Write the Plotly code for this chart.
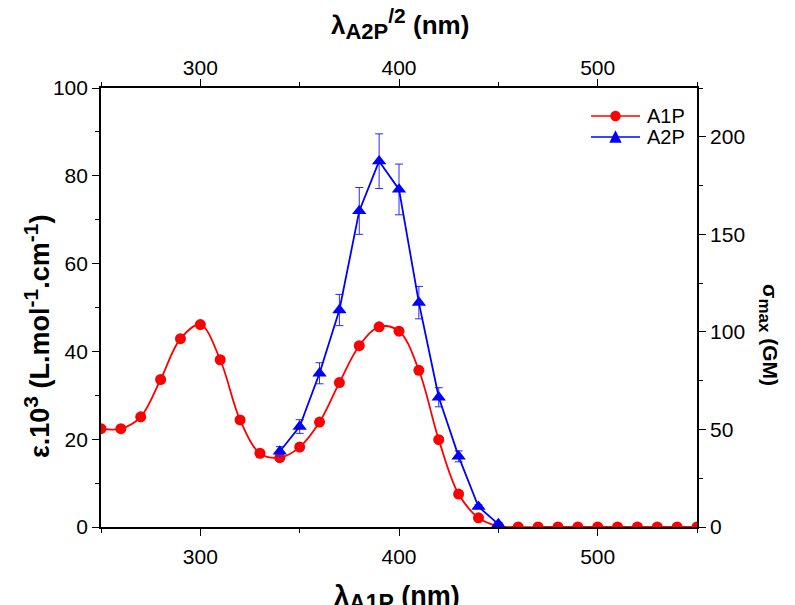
import plotly.graph_objects as go

# ---- data ----
wl_a1p = [250, 260, 270, 280, 290, 300, 310, 320, 330, 340, 350, 360, 370, 380, 390,
          400, 410, 420, 430, 440, 450, 460, 470, 480, 490, 500, 510, 520, 530, 540, 550]
eps_a1p = [22.4, 22.4, 25.1, 33.6, 42.9, 46.1, 38.1, 24.4, 16.8, 15.8, 18.2, 23.9, 32.9, 41.3, 45.6,
           44.6, 35.7, 19.9, 7.5, 2.1, 0.2, 0, 0, 0, 0, 0, 0, 0, 0, 0, 0]

wl_a2p_half = [340, 350, 360, 370, 380, 390, 400, 410, 420, 430, 440, 450]
sigma_a2p = [38.7, 51.5, 78.8, 111.2, 162.0, 187.5, 173.0, 115.0, 66.5, 36.2, 10.4, 1.5]
sigma_err = [2.5, 3.5, 5.4, 8.0, 12.0, 14.0, 13.0, 8.3, 4.9, 2.8, 1.0, 0.5]

x_ticks = [300, 400, 500]
series_names = ["A1P", "A2P"]
series_colors = ["#ff0000", "#0000ff"]

FONT = "Liberation Sans, Arial, sans-serif"

# ---- layout geometry (pixels in the page) ----
PAGE_OFF = 8            # html body margin
L, R, T, B = 101, 697, 88, 527
W, H = 795, 605
PW, PH = R - L, B - T


def px(xp):
    return (xp - L) / PW


def py(yp):
    return (B - yp) / PH


fig = go.Figure()
fig.add_trace(go.Scatter(
    x=wl_a1p, y=eps_a1p, name=series_names[0], mode="lines+markers",
    line=dict(color=series_colors[0], width=1.8, shape="spline", smoothing=1.0),
    marker=dict(symbol="circle", size=11, color=series_colors[0]),
    xaxis="x", yaxis="y", showlegend=False,
))
fig.add_trace(go.Scatter(
    x=wl_a2p_half, y=sigma_a2p, name=series_names[1], mode="lines+markers",
    line=dict(color=series_colors[1], width=1.8),
    marker=dict(symbol="triangle-up", size=12.5, color=series_colors[1]),
    error_y=dict(type="data", array=sigma_err, visible=True, color="#2a2aff",
                 thickness=1, width=4),
    xaxis="x2", yaxis="y2", showlegend=False,
))

minor_common = dict(ticks="outside", ticklen=4, tickwidth=1.4, tickcolor="black")
axis_common = dict(
    showline=True, linecolor="black", linewidth=1.7, ticks="outside",
    ticklen=7, tickwidth=1.4, tickcolor="black", showgrid=False, zeroline=False,
    tickfont=dict(family=FONT, size=21, color="black"),
)

# manual legend (line + marker + label), positioned in paper coords
shapes = []
annotations = []
leg_rows = [116, 137]
for i, (name, col) in enumerate(zip(series_names, series_colors)):
    yc = leg_rows[i]
    shapes.append(dict(type="line", xref="paper", yref="paper",
                       x0=px(591), x1=px(640), y0=py(yc), y1=py(yc),
                       line=dict(color=col, width=1.7)))
    if i == 0:
        r = 5.2
        shapes.append(dict(type="circle", xref="paper", yref="paper",
                           x0=px(615.5 - r), x1=px(615.5 + r), y0=py(yc + r), y1=py(yc - r),
                           fillcolor=col, line=dict(color=col, width=0)))
    else:
        hw, hh = 6.2, 5.8
        path = "M {a},{b} L {c},{d} L {e},{f} Z".format(
            a=px(615.5 - hw), b=py(yc + hh), c=px(615.5 + hw), d=py(yc + hh),
            e=px(615.5), f=py(yc - hh - 1))
        shapes.append(dict(type="path", xref="paper", yref="paper", path=path,
                           fillcolor=col, line=dict(color=col, width=0)))
    annotations.append(dict(text=name, xref="paper", yref="paper", x=px(645), y=py(yc),
                            xanchor="left", yanchor="middle", showarrow=False,
                            font=dict(family=FONT, size=20, color="black")))

annotations += [
    dict(text="<b>λ<sub><span style='font-size:22px'>A2P</span></sub>"
              "<sup><span style='font-size:21px'>/2</span></sup> (nm)</b>",
         xref="paper", yref="paper", x=px(400), y=py(24), xanchor="center", yanchor="middle",
         showarrow=False, font=dict(family=FONT, size=26, color="black")),
    dict(text="<b>λ<sub><span style='font-size:23px'>A1P</span></sub> (nm)</b>",
         xref="paper", yref="paper", x=px(397), y=py(598), xanchor="center", yanchor="middle",
         showarrow=False, font=dict(family=FONT, size=27, color="black")),
    dict(text="<b>ε.10<sup><span style='font-size:21px'>3</span></sup> (L.mol"
              "<sup><span style='font-size:21px'>-1</span></sup>.cm"
              "<sup><span style='font-size:21px'>-1</span></sup>)</b>",
         xref="paper", yref="paper", x=px(37), y=py(337), xanchor="center", yanchor="middle",
         textangle=-90, showarrow=False, font=dict(family=FONT, size=27, color="black")),
    dict(text="<b>σ<sub><span style='font-size:17px'>max</span></sub> (GM)</b>",
         xref="paper", yref="paper", x=px(769), y=py(335), xanchor="center", yanchor="middle",
         textangle=90, showarrow=False, font=dict(family=FONT, size=21, color="black")),
]

fig.update_layout(
    width=W, height=H,
    margin=dict(l=L - PAGE_OFF, r=W - R + PAGE_OFF, t=T - PAGE_OFF, b=H - B + PAGE_OFF),
    paper_bgcolor="white", plot_bgcolor="white",
    font=dict(family=FONT, color="black"),
    xaxis=dict(range=[250, 550], tickvals=x_ticks, side="bottom", anchor="y",
               ticklabelstandoff=3,
               minor=dict(tickvals=[250, 350, 450, 550], **minor_common), **axis_common),
    xaxis2=dict(range=[250, 550], tickvals=x_ticks, side="top", overlaying="x", anchor="y2",
                ticklabelstandoff=-4,
                minor=dict(tickvals=[250, 350, 450, 550], **minor_common), **axis_common),
    yaxis=dict(range=[0, 100], dtick=20, tick0=0, side="left", anchor="x",
               minor=dict(dtick=10, tick0=0, **minor_common), **axis_common),
    yaxis2=dict(range=[0, 225], dtick=50, tick0=0, side="right", overlaying="y", anchor="x2",
                minor=dict(dtick=25, tick0=0, **minor_common), **axis_common),
    showlegend=False,
    shapes=shapes,
    annotations=annotations,
)

fig.write_html("out.html")
